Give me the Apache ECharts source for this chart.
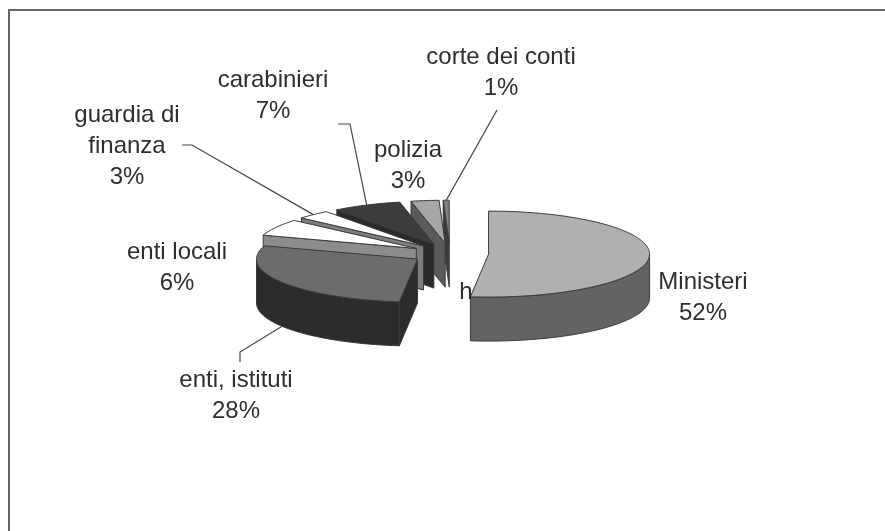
<!DOCTYPE html>
<html><head><meta charset="utf-8">
<style>html,body{margin:0;padding:0;background:#fff;overflow:hidden}#c{width:885px;height:531px;filter:blur(0.5px)}</style>
<script src="https://cdn.jsdelivr.net/npm/echarts@6/dist/echarts.min.js"></script>
</head><body><div id="c"></div>
<script>
const categories = ['Ministeri','enti, istituti','enti locali','guardia di\nfinanza','carabinieri','polizia','corte dei conti'];
const values = [51.8, 28.2, 6.3, 3.4, 6.9, 2.8, 0.6];
const topColors = ['#b0b0b0','#6c6c6c','#ffffff','#ffffff','#3c3c3c','#a6a6a6','#808080'];
const wallColors = ['#636363','#2c2c2c','#8c8c8c','#7d7d7d','#2a2a2a','#5a5a5a','#3c3c3c'];
const labelPos = [[703,298],[236,396],[177,268],[127,146],[273,96],[408,166],[501,73]];
const leaderEnds = [null,[[240,352],[240,362]],null,[[192,145],[182,145]],[[350,124],[338,124]],null,[[497,110]]];
const strayLabel = {text:'h', x:466, y:292};
const CX=450, CY=253.5, RX=161, RY=43, DEPTH=44, EXPLODE=0.24;
const total = values.reduce((a,b)=>a+b,0);
const rad = d=>d*Math.PI/180;
const slices=[]; let acc=0;
values.forEach((v,i)=>{const a0=acc/total*360; acc+=v; const a1=acc/total*360; slices.push({i,a0,a1});});
const ell=(c,a)=>[c[0]+RX*Math.sin(rad(a)), c[1]-RY*Math.cos(rad(a))];
const down=p=>[p[0],p[1]+DEPTH];
const arc=(c,a,b)=>{const out=[];const n=Math.max(2,Math.ceil(Math.abs(b-a)));for(let k=0;k<=n;k++)out.push(ell(c,a+(b-a)*k/n));return out;};
const stroke={stroke:'#3a3a3a',lineWidth:1,lineJoin:'round'};
const txt={fontFamily:'Liberation Sans, Arial, sans-serif',fontSize:24,fill:'#2e2e2e',lineHeight:31};
function renderItem(params,api){
  const s=slices[api.value(0)], i=s.i, mid=(s.a0+s.a1)/2;
  const c=[CX+EXPLODE*RX*Math.sin(rad(mid)), CY-EXPLODE*RY*Math.cos(rad(mid))];
  const children=[];
  const poly=(pts,fill)=>children.push({type:'polygon',shape:{points:pts},style:{fill,...stroke}});
  if(Math.sin(rad(s.a1))>0) { const p=ell(c,s.a1); poly([c,p,down(p),down(c)],wallColors[i]); }
  if(Math.sin(rad(s.a0))<0) { const p=ell(c,s.a0); poly([c,p,down(p),down(c)],wallColors[i]); }
  const f0=Math.max(s.a0,90), f1=Math.min(s.a1,270);
  if(f1>f0){ const a=arc(c,f0,f1); poly(a.concat(a.slice().reverse().map(down)),wallColors[i]); }
  poly([c].concat(arc(c,s.a0,s.a1)),topColors[i]);
  const le=leaderEnds[i];
  if(le){ let st=ell(c,mid); if(mid>90&&mid<270) st=down(st);
    children.push({type:'polyline',shape:{points:[st].concat(le)},style:{stroke:'#444',lineWidth:1.2,fill:null}}); }
  const lp=labelPos[i];
  children.push({type:'text',style:{...txt,text:categories[i]+'\n'+Math.round(values[i])+'%',x:lp[0],y:lp[1],align:'center',verticalAlign:'middle'}});
  return {type:'group',children};
}
const chart=echarts.init(document.getElementById('c'),null,{renderer:'canvas'});
chart.setOption({
  animation:false, backgroundColor:'#fff',
  graphic:[
   {type:'rect',z:-1,shape:{x:9,y:10,width:900,height:540},style:{fill:'none',stroke:'#666',lineWidth:2}},
   {type:'text',z:10,style:{...txt,text:strayLabel.text,x:strayLabel.x,y:strayLabel.y,align:'center',verticalAlign:'middle'}}
  ],
  series:[{type:'custom',coordinateSystem:'none',renderItem,data:[6,5,4,3,2,1,0].map(i=>[i])}]
});
</script></body></html>
